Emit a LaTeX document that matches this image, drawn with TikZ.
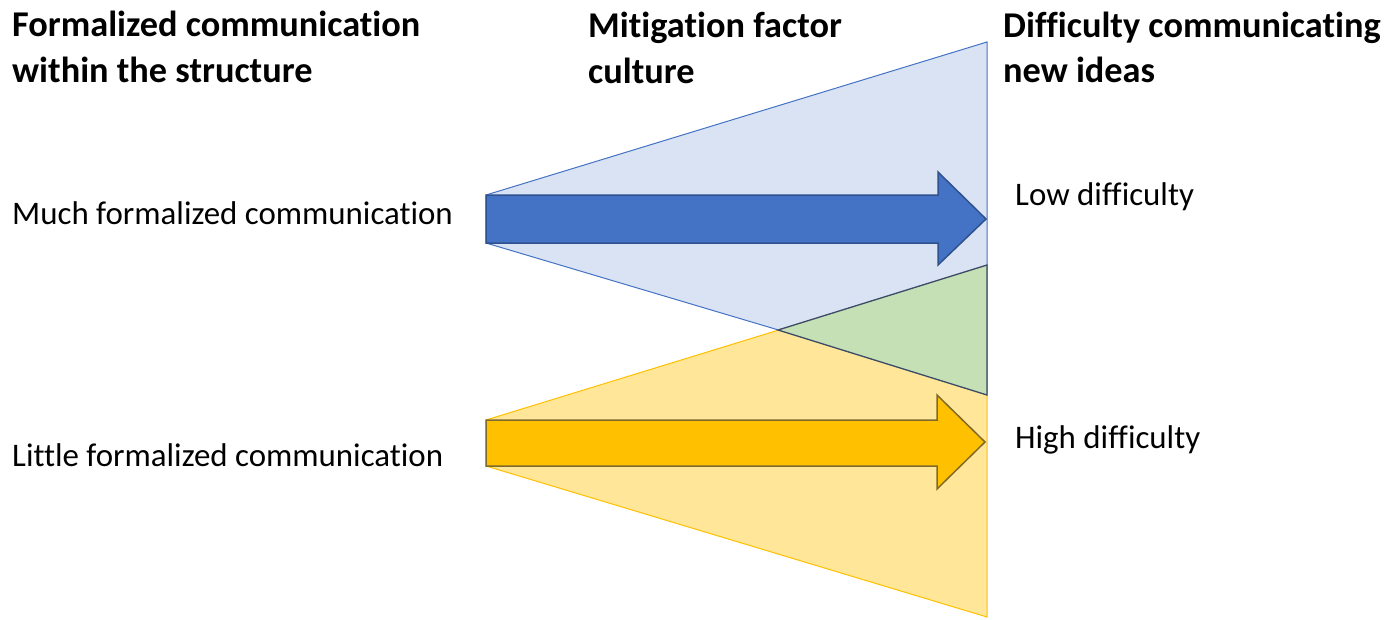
\documentclass[tikz,border=0pt]{standalone}
\usepackage{fontspec}
\setmainfont{Carlito}[Ligatures=NoCommon]
\definecolor{ltblue}{HTML}{DAE3F3}
\definecolor{midblue}{HTML}{4472C4}
\definecolor{dkblue}{HTML}{2F528F}
\definecolor{ltyellow}{HTML}{FFE699}
\definecolor{gold}{HTML}{FFC000}
\definecolor{dkgold}{HTML}{7F6A2A}
\definecolor{ltgreen}{HTML}{C5E0B4}
\definecolor{dkgreenline}{HTML}{3B4A66}
\tikzset{
  heading/.style={anchor=base west, inner sep=0pt, font=\fontsize{36.3}{42}\selectfont\bfseries},
  label/.style={anchor=base west, inner sep=0pt, font=\fontsize{32.9}{38}\selectfont},
  bluefan/.style={fill=ltblue, draw=midblue, line width=1pt, line join=miter},
  yellowfan/.style={fill=ltyellow, draw=gold, line width=1pt},
  greenfan/.style={fill=ltgreen, draw=dkgreenline, line width=1.3pt},
  bluearrow/.style={fill=midblue, draw=dkblue, line width=1.5pt},
  yellowarrow/.style={fill=gold, draw=dkgold, line width=1.5pt},
}
\begin{document}
\begin{tikzpicture}[x=1pt,y=-1pt]
\useasboundingbox (0,0) rectangle (1387,619);
% fans
\draw[bluefan] (486,195) -- (987,42) -- (987,392) -- (486,243) -- cycle;
\draw[yellowfan] (486,420) -- (987,266) -- (987,617) -- (486,466) -- cycle;
\draw[greenfan] (778,330) -- (987,265) -- (987,395) -- cycle;
% arrows
\draw[bluearrow] (486,195) -- (938,195) -- (938,172) -- (986,219) -- (938,265) -- (938,243) -- (486,243) -- cycle;
\draw[yellowarrow] (486,420) -- (937,420) -- (937,395) -- (985,442) -- (937,489) -- (937,466) -- (486,466) -- cycle;
% headings
\node[heading] (h1a) at (12,36) {Formalized communication};
\node[heading] (h1b) at (12,82) {within the structure};
\node[heading] (h2a) at (588,37) {Mitigation factor};
\node[heading] (h2b) at (588,83) {culture};
\node[heading] (h3a) at (1003,37) {Difficulty communicating};
\node[heading] (h3b) at (1003,82) {new ideas};
% labels
\node[label] (much) at (12,224) {Much formalized communication};
\node[label] (little) at (12,466) {Little formalized communication};
\node[label] (low) at (1015,205) {Low difficulty};
\node[label] (high) at (1015,448) {High difficulty};
\end{tikzpicture}
\end{document}
